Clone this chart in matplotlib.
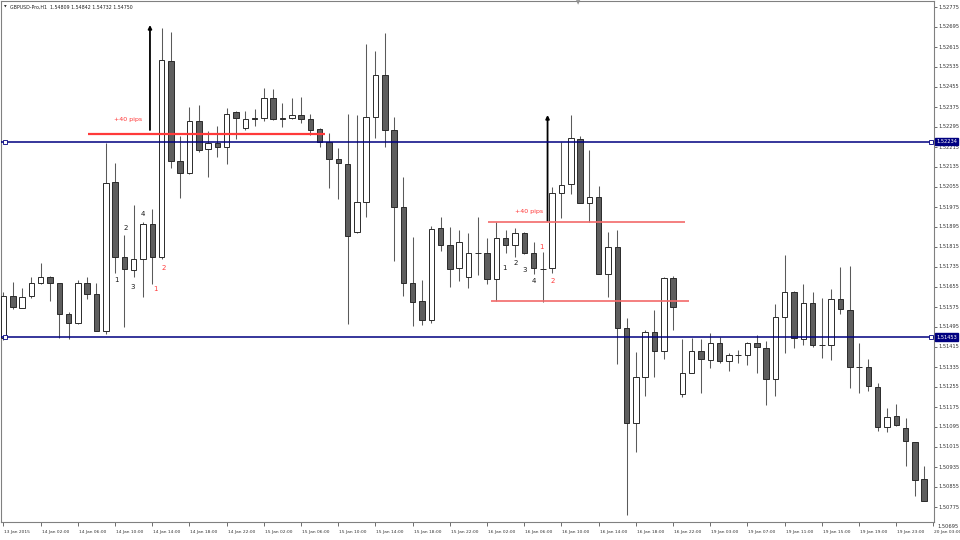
import numpy as np
import matplotlib.pyplot as plt
from matplotlib.transforms import blended_transform_factory, ScaledTranslation

# GBPUSD H1 candles, 13 Jan 22:00 .. 20 Jan 02:00
opens = [1.51449, 1.51617, 1.51570, 1.51617, 1.51668, 1.51694, 1.51668, 1.51545, 1.51508, 1.51668,
         1.51624, 1.51478, 1.52074, 1.51774, 1.51721, 1.51766, 1.51904, 1.51774, 1.52558, 1.52157,
         1.52110, 1.52317, 1.52204, 1.52230, 1.52214, 1.52354, 1.52290, 1.52328, 1.52328, 1.52408,
         1.52329, 1.52328, 1.52341, 1.52325, 1.52284, 1.52234, 1.52164, 1.52145, 1.51872, 1.51993,
         1.52334, 1.52501, 1.52281, 1.51972, 1.51670, 1.51597, 1.51521, 1.51888, 1.51821, 1.51728,
         1.51692, 1.51790, 1.51788, 1.51684, 1.51848, 1.51821, 1.51868, 1.51788, 1.51725, 1.51728,
         1.52030, 1.52064, 1.52245, 1.51990, 1.52014, 1.51705, 1.51814, 1.51488, 1.51110, 1.51294,
         1.51472, 1.51397, 1.51688, 1.51224, 1.51310, 1.51397, 1.51361, 1.51428, 1.51358, 1.51381,
         1.51381, 1.51428, 1.51408, 1.51284, 1.51534, 1.51632, 1.51444, 1.51588, 1.51421, 1.51421,
         1.51605, 1.51561, 1.51334, 1.51334, 1.51254, 1.51092, 1.51137, 1.51088, 1.51034, 1.50884]
highs = [1.51633, 1.51674, 1.51649, 1.51694, 1.51748, 1.51697, 1.51670, 1.51554, 1.51681, 1.51694,
         1.51668, 1.52230, 1.52148, 1.51860, 1.51981, 1.51913, 1.51964, 1.52688, 1.52672, 1.52257,
         1.52372, 1.52381, 1.52277, 1.52297, 1.52370, 1.52357, 1.52357, 1.52364, 1.52450, 1.52444,
         1.52388, 1.52408, 1.52414, 1.52344, 1.52289, 1.52268, 1.52208, 1.52345, 1.52341, 1.52625,
         1.52598, 1.52668, 1.52334, 1.52092, 1.51852, 1.51681, 1.51897, 1.51932, 1.51894, 1.51881,
         1.51868, 1.51934, 1.51848, 1.51914, 1.51881, 1.51888, 1.51874, 1.51834, 1.51793, 1.52054,
         1.52234, 1.52341, 1.52258, 1.52201, 1.52057, 1.51874, 1.51881, 1.51528, 1.51394, 1.51481,
         1.51561, 1.51694, 1.51697, 1.51444, 1.51448, 1.51445, 1.51470, 1.51452, 1.51390, 1.51401,
         1.51434, 1.51461, 1.51437, 1.51584, 1.51781, 1.51637, 1.51664, 1.51634, 1.51610, 1.51645,
         1.51734, 1.51737, 1.51430, 1.51365, 1.51270, 1.51168, 1.51185, 1.51128, 1.51034, 1.50937]
lows = [1.51441, 1.51564, 1.51569, 1.51610, 1.51664, 1.51598, 1.51448, 1.51444, 1.51505, 1.51604,
        1.51477, 1.51465, 1.51708, 1.51492, 1.51692, 1.51614, 1.51665, 1.51766, 1.52129, 1.52009,
        1.52105, 1.52193, 1.52094, 1.52174, 1.52145, 1.52244, 1.52281, 1.52297, 1.52318, 1.52321,
        1.52294, 1.52325, 1.52310, 1.52261, 1.52214, 1.52048, 1.52004, 1.51505, 1.51869, 1.51932,
        1.52248, 1.52214, 1.51758, 1.51617, 1.51497, 1.51501, 1.51508, 1.51798, 1.51652, 1.51678,
        1.51648, 1.51701, 1.51665, 1.51598, 1.51788, 1.51775, 1.51787, 1.51705, 1.51594, 1.51708,
        1.51928, 1.52024, 1.51989, 1.51914, 1.51705, 1.51614, 1.51345, 1.50741, 1.50994, 1.51217,
        1.51294, 1.51364, 1.51481, 1.51214, 1.51308, 1.51230, 1.51328, 1.51350, 1.51317, 1.51350,
        1.51341, 1.51310, 1.51181, 1.51217, 1.51390, 1.51408, 1.51421, 1.51414, 1.51368, 1.51361,
        1.51545, 1.51250, 1.51228, 1.51238, 1.51078, 1.51074, 1.51097, 1.50937, 1.50818, 1.50797]
closes = [1.51617, 1.51573, 1.51614, 1.51668, 1.51694, 1.51668, 1.51545, 1.51508, 1.51668, 1.51624,
          1.51478, 1.52070, 1.51774, 1.51724, 1.51766, 1.51904, 1.51774, 1.52561, 1.52158, 1.52110,
          1.52317, 1.52201, 1.52228, 1.52214, 1.52345, 1.52328, 1.52325, 1.52326, 1.52408, 1.52324,
          1.52327, 1.52341, 1.52324, 1.52281, 1.52234, 1.52164, 1.52148, 1.51857, 1.51993, 1.52334,
          1.52501, 1.52281, 1.51974, 1.51670, 1.51594, 1.51521, 1.51884, 1.51821, 1.51724, 1.51832,
          1.51788, 1.51789, 1.51684, 1.51848, 1.51821, 1.51868, 1.51788, 1.51728, 1.51724, 1.52030,
          1.52061, 1.52248, 1.51990, 1.52014, 1.51707, 1.51814, 1.51488, 1.51108, 1.51294, 1.51474,
          1.51398, 1.51688, 1.51574, 1.51310, 1.51397, 1.51364, 1.51430, 1.51358, 1.51381, 1.51380,
          1.51430, 1.51412, 1.51284, 1.51534, 1.51632, 1.51448, 1.51588, 1.51421, 1.51420, 1.51605,
          1.51565, 1.51334, 1.51333, 1.51258, 1.51092, 1.51134, 1.51101, 1.51038, 1.50881, 1.50797]

time_labels = ['13 Jan 2015', '14 Jan 02:00', '14 Jan 06:00', '14 Jan 10:00', '14 Jan 14:00',
               '14 Jan 18:00', '14 Jan 22:00', '15 Jan 02:00', '15 Jan 06:00', '15 Jan 10:00',
               '15 Jan 14:00', '15 Jan 18:00', '15 Jan 22:00', '16 Jan 02:00', '16 Jan 06:00',
               '16 Jan 10:00', '16 Jan 14:00', '16 Jan 18:00', '16 Jan 22:00', '19 Jan 03:00',
               '19 Jan 07:00', '19 Jan 11:00', '19 Jan 15:00', '19 Jan 19:00', '19 Jan 23:00',
               '20 Jan 03:00']
price_ticks = [1.52775, 1.52695, 1.52615, 1.52535, 1.52455, 1.52375, 1.52295, 1.52215, 1.52135,
               1.52055, 1.51975, 1.51895, 1.51815, 1.51735, 1.51655, 1.51575, 1.51495, 1.51415,
               1.51335, 1.51255, 1.51175, 1.51095, 1.51015, 1.50935, 1.50855, 1.50775, 1.50695]

# horizontal levels (blue) and the two "+40 pips" setups
levels = [1.52234, 1.51453]
red_lines = [(1.52264, 9.1, 34.6), (1.51914, 52.1, 73.3), (1.51597, 52.4, 73.7)]
arrows = [(15.75, 1.52281, 1.52701), (58.5, 1.51917, 1.52341)]
pips_text = [(13.4, 1.52325), (56.5, 1.51954)]
# counting labels: (bar, price, text, colour)
counts = [(12.1, 1.51681, '1', 'k'), (13.1, 1.51890, '2', 'k'), (13.9, 1.51654, '3', 'k'),
          (15.0, 1.51944, '4', 'k'), (16.3, 1.51644, '1', 'r'), (17.2, 1.51728, '2', 'r'),
          (53.9, 1.51728, '1', 'k'), (55.1, 1.51750, '2', 'k'), (56.0, 1.51721, '3', 'k'),
          (57.0, 1.51678, '4', 'k'), (57.9, 1.51812, '1', 'r'), (59.05, 1.51678, '2', 'r')]

fig = plt.figure(figsize=(9.6, 5.4), dpi=100)
ax = fig.add_axes([0.001, 18 / 540, 933 / 960, 521 / 540])
ax.set_xlim(-0.273, 100.05)
ax.set_ylim(1.50713, 1.52797)

o, h, l, c = map(np.array, (opens, highs, lows, closes))
x = np.arange(len(o))
up = c >= o
ax.vlines(x, l, h, color='#5a5a5a', lw=0.75, zorder=2)
lo = np.minimum(o, c)
hh = np.maximum(np.abs(c - o), 0.000012)
ax.bar(x[up], hh[up], bottom=lo[up], width=0.6, color='white', edgecolor='#2a2a2a', lw=0.7, zorder=3)
ax.bar(x[~up], hh[~up], bottom=lo[~up], width=0.6, color='#5e5e5e', edgecolor='#2a2a2a', lw=0.7, zorder=3)

blend = blended_transform_factory(ax.transAxes, ax.transData)
for lv in levels:
    ax.axhline(lv, color='#000080', lw=1.1, zorder=4)
    ax.plot([0.16, 99.7], [lv, lv], ls='none', marker='s', ms=2.5, mfc='white', mec='#000080', mew=0.6, zorder=5, clip_on=False)
    ax.text(1.0, lv, f'{lv:.5f}', transform=blend + ScaledTranslation(2 / 100, 0, fig.dpi_scale_trans),
            fontsize=3.7, color='white', va='center', ha='left', zorder=10, clip_on=False,
            bbox=dict(boxstyle='square,pad=0.2', fc='#000080', ec='#000080'))

for i, (lv, x0, x1) in enumerate(red_lines):
    ax.hlines(lv, x0, x1, color='#ff3a3a' if i == 0 else '#f26a6a', lw=1.6 if i == 0 else 1.2, zorder=4)
for bx, y0, y1 in arrows:
    ax.annotate('', xy=(bx, y1), xytext=(bx, y0),
                arrowprops=dict(arrowstyle='-|>', color='black', lw=1.3, mutation_scale=5, shrinkA=0, shrinkB=0))
for bx, py in pips_text:
    ax.text(bx, py, '+40 pips', color='#ff3333', fontsize=4.5, ha='center', va='center')
for bx, py, t, col in counts:
    ax.text(bx, py, t, color='#1a1a1a' if col == 'k' else '#ff3b3b', fontsize=5, ha='center', va='center')

# axes styling, MT4-like
for s in ax.spines.values():
    s.set_color('#808080')
    s.set_linewidth(0.8)
ax.yaxis.tick_right()
ax.set_yticks(price_ticks[:-1], [f'{v:.5f}' for v in price_ticks[:-1]])
ax.tick_params(axis='y', length=2, width=0.5, pad=1.5, labelsize=3.7, colors='#333333')
ax.text(1.0, price_ticks[-1], f'{price_ticks[-1]:.5f}',
        transform=blend + ScaledTranslation(3.5 / 100, 0, fig.dpi_scale_trans),
        fontsize=3.7, color='#333333', va='center', ha='left', clip_on=False)

ax.set_xticks(range(0, 101, 4), time_labels)
ax.tick_params(axis='x', length=3, width=0.5, pad=2.5, labelsize=3.2, colors='#333333')
for lbl in ax.get_xticklabels():
    lbl.set_ha('left')
    lbl.set_transform(lbl.get_transform() + ScaledTranslation(1 / 100, 0, fig.dpi_scale_trans))

fig.text(5 / 960, 1 - 7 / 540, '\u25bc', fontsize=2.5, va='center', ha='center', color='#222222')
fig.text(10 / 960, 1 - 7 / 540, 'GBPUSD-Pro,H1  1.54809 1.54842 1.54732 1.54750',
         fontsize=3.4, va='center', ha='left', color='#222222')
fig.text(578 / 960, 1 - 3 / 540, '\u25bc', fontsize=4, va='center', ha='center', color='#909090')

fig.savefig('out.png', dpi=100, facecolor='white')
